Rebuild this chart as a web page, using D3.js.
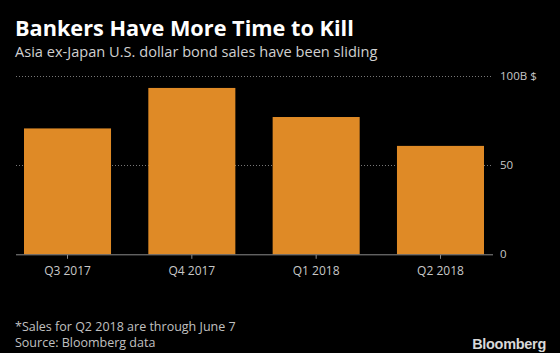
<!DOCTYPE html>
<html><head><meta charset="utf-8">
<script src="https://cdn.jsdelivr.net/npm/d3@7"></script>
<style>
html,body{margin:0;padding:0;background:#000;}
svg{display:block;}
text{font-family:"Open Sans","Liberation Sans",sans-serif;}
</style></head>
<body><div id="chart"></div>
<script>
const categories = ["Q3 2017", "Q4 2017", "Q1 2018", "Q2 2018"];
const sales = [70.6, 93.3, 77.0, 60.8];
const yTicks = [0, 50, 100];
const yTickLabels = ["0", "50", "100B $"];
const title = "Bankers Have More Time to Kill";
const subtitle = "Asia ex-Japan U.S. dollar bond sales have been sliding";
const footnote = "*Sales for Q2 2018 are through June 7";
const source = "Source: Bloomberg data";

const W = 560, H = 353;
const svg = d3.select("#chart").append("svg").attr("width", W).attr("height", H);
svg.append("rect").attr("width", W).attr("height", H).attr("fill", "#000");

const plotL = 16, plotR = 493, plotT = 76, plotB = 254.3;
const x = d3.scaleBand().domain(categories).range([24, 484]).paddingInner(0.3).paddingOuter(0);
const y = d3.scaleLinear().domain([0, 100]).range([plotB, plotT]);

// gridlines
svg.append("g").selectAll("line").data(yTicks.filter(d => d > 0)).join("line")
  .attr("x1", plotL).attr("x2", plotR)
  .attr("y1", d => Math.round(y(d)) + 0.5).attr("y2", d => Math.round(y(d)) + 0.5)
  .attr("stroke", "#777").attr("stroke-width", 1).attr("stroke-dasharray", "1,2");

// bars
svg.append("g").selectAll("rect").data(sales).join("rect")
  .attr("x", (d, i) => x(categories[i]))
  .attr("width", x.bandwidth())
  .attr("y", d => y(d))
  .attr("height", d => y(0) - y(d))
  .attr("fill", "#df8a26");

// baseline
svg.append("line").attr("x1", plotL).attr("x2", plotR)
  .attr("y1", y(0) + 0.5).attr("y2", y(0) + 0.5)
  .attr("stroke", "#8a8a8a").attr("stroke-width", 1);

// x axis
const xAxis = d3.axisBottom(x).tickSize(4).tickPadding(8);
const gx = svg.append("g").attr("transform", `translate(0,${y(0) + 0.5})`).call(xAxis);
gx.select(".domain").remove();
gx.selectAll(".tick line").attr("stroke", "#8a8a8a");
gx.selectAll(".tick text").attr("fill", "#c8c8c8").attr("font-size", 12)
  .style("font-family", '"Open Sans","Liberation Sans",sans-serif');

// y axis right
const yAxis = d3.axisRight(y).tickValues(yTicks).tickSize(0).tickPadding(0)
  .tickFormat((d, i) => yTickLabels[i]);
const gy = svg.append("g").attr("transform", `translate(500,0)`).call(yAxis);
gy.select(".domain").remove();
gy.selectAll(".tick text").attr("fill", "#c8c8c8").attr("font-size", 11.5)
  .style("font-family", '"Open Sans","Liberation Sans",sans-serif');

// titles
svg.append("text").attr("x", 15).attr("y", 35.5).text(title)
  .attr("fill", "#fff").attr("font-size", 21.7).attr("font-weight", "bold")
  .style("font-family", '"Open Sans","Liberation Sans",sans-serif');
svg.append("text").attr("x", 15).attr("y", 57).text(subtitle)
  .attr("fill", "#d0d0d0").attr("font-size", 14.6);

svg.append("text").attr("x", 15).attr("y", 331).text(footnote)
  .attr("fill", "#c0c0c0").attr("font-size", 12.5);
svg.append("text").attr("x", 15).attr("y", 347).text(source)
  .attr("fill", "#c0c0c0").attr("font-size", 12.5);
svg.append("text").attr("x", 546).attr("y", 349).attr("text-anchor", "end").text("Bloomberg")
  .attr("fill", "#d8d8d8").attr("font-size", 14.5).attr("font-weight", "bold")
  .style("font-family", '"Liberation Sans",Arial,sans-serif').style("letter-spacing", "-0.3px");
</script></body></html>
